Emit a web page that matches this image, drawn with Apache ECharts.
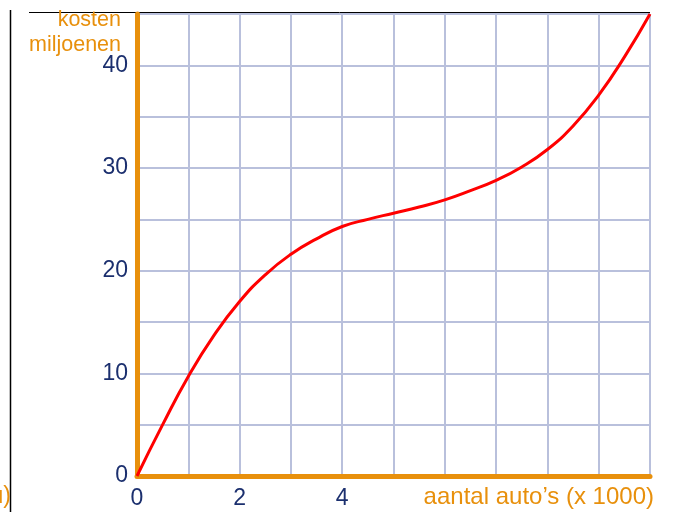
<!DOCTYPE html>
<html lang="nl">
<head>
  <meta charset="UTF-8">
  <title>kosten</title>
  <script src="https://cdn.jsdelivr.net/npm/echarts@6/dist/echarts.min.js"></script>
  <style>
    body { margin: 0; background: #fff; }
  </style>
</head>
<body>
  <div id="main" style="width: 674px;height:517px;"></div>
<script>
  // aantal auto's (x 1000) en kosten (miljoenen)
  var autos = [0, 0.5, 1, 1.5, 2, 2.5, 3, 3.5, 4, 4.5, 5, 5.5, 6, 6.5, 7, 7.5, 8, 8.5, 9, 9.5, 10];
  var kosten = [0, 5.0, 9.7, 13.7, 17.0, 19.6, 21.6, 23.1, 24.3, 25.0, 25.6, 26.2, 26.9, 27.8, 28.8, 30.1, 31.8, 34.1, 37.1, 40.8, 45];
  var xLabels = [0, 2, 4];
  var yLabels = [0, 10, 20, 30, 40];

  var orange = '#E8900C';
  var navy = '#1B2F6E';
  var font = '"Liberation Sans", Arial, sans-serif';

  var myChart = echarts.init(document.getElementById('main'));

  var option = {
    animation: false,
    grid: { left: 137, right: 24, top: 14, bottom: 41, outerBoundsMode: 'none' },
    xAxis: {
      type: 'value',
      min: 0,
      max: 10,
      interval: 1,
      name: 'aantal auto\u2019s (x 1000)',
      nameLocation: 'end',
      nameGap: 4,
      nameTextStyle: {
        color: orange, fontFamily: font, fontSize: 24,
        align: 'right', verticalAlign: 'top', padding: [9, 0, 0, 0]
      },
      axisLine: { lineStyle: { color: orange, width: 5 } },
      axisTick: { show: false },
      axisLabel: {
        color: navy, fontFamily: font, fontSize: 23, margin: 11,
        formatter: function (v) { return xLabels.indexOf(v) >= 0 ? String(v) : ''; }
      },
      splitLine: { show: true, lineStyle: { color: '#B9C0DC', width: 2 } }
    },
    yAxis: {
      type: 'value',
      min: 0,
      max: 45,
      interval: 5,
      axisLine: { show: true, lineStyle: { color: orange, width: 5 } },
      axisTick: { show: false },
      axisLabel: {
        color: navy, fontFamily: font, fontSize: 23, margin: 9, padding: [7, 0, 0, 0],
        formatter: function (v) { return yLabels.indexOf(v) >= 0 ? String(v) : ''; }
      },
      splitLine: { show: true, lineStyle: { color: '#B9C0DC', width: 2 } }
    },
    series: [
      {
        type: 'line',
        data: autos.map(function (x, i) { return [x, kosten[i]]; }),
        smooth: true,
        showSymbol: false,
        lineStyle: { color: '#FF0000', width: 3 },
        z: 5
      }
    ],
    graphic: [
      { type: 'line', shape: { x1: 29, y1: 12.5, x2: 650, y2: 12.5 }, style: { stroke: '#000', lineWidth: 1 }, z: 0 },
      { type: 'line', shape: { x1: 10.5, y1: 10, x2: 10.5, y2: 512 }, style: { stroke: '#000', lineWidth: 1.5 } },
      // y-as titel
      {
        type: 'text', x: 121, y: 8,
        style: {
          text: 'kosten\nmiljoenen', fill: orange, fontFamily: font, fontSize: 21.5,
          lineHeight: 25, align: 'right', verticalAlign: 'top'
        }
      },
      { type: 'text', x: 11, y: 497, style: { text: 'u)', fill: orange, font: '23px ' + font, textAlign: 'right', textVerticalAlign: 'middle' } }
    ]
  };

  myChart.setOption(option);
</script>
</body>
</html>
